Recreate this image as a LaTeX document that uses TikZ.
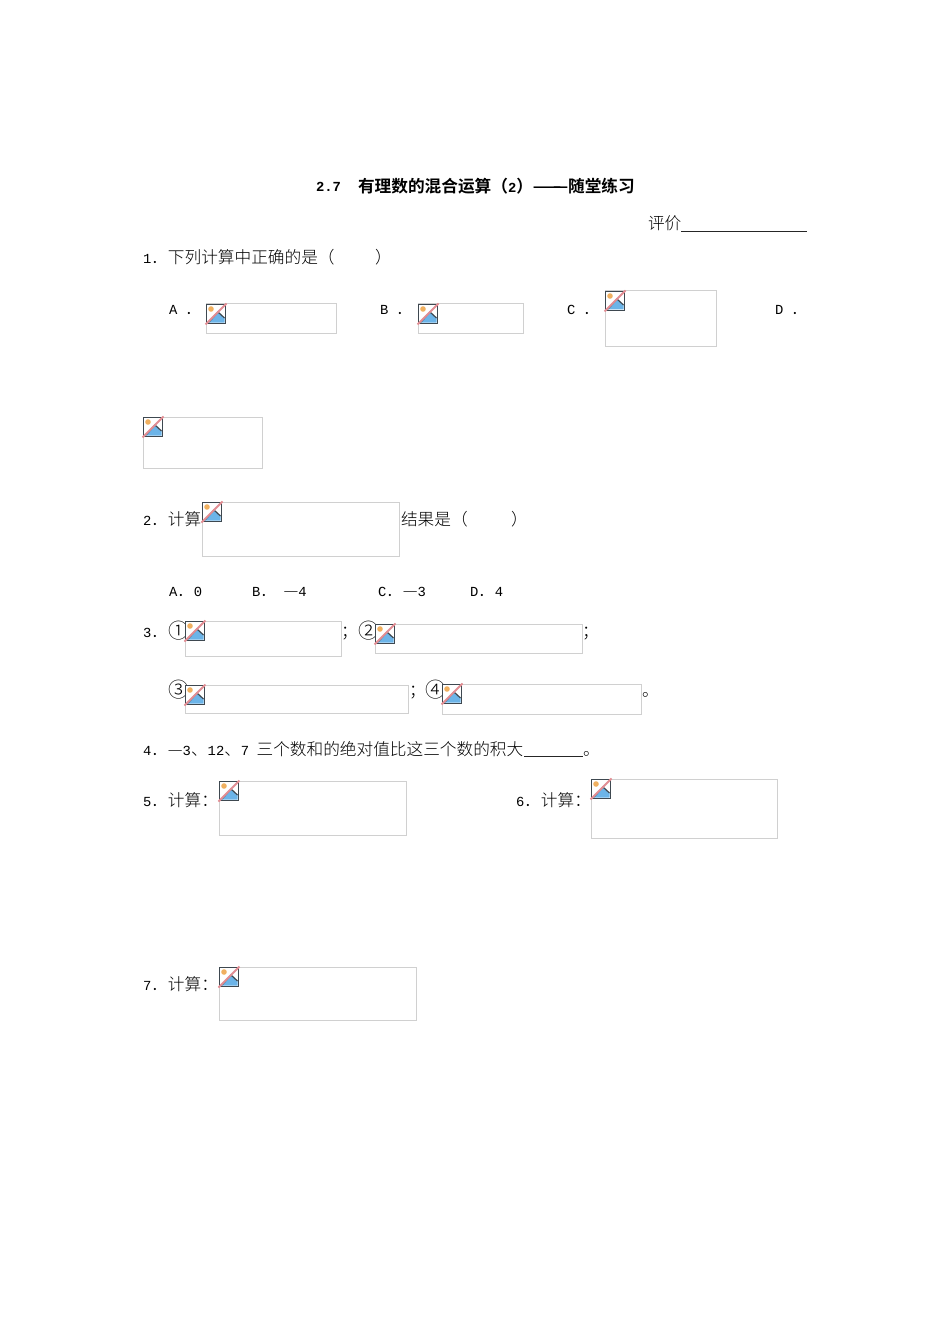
\documentclass[tikz,border=0pt]{standalone}
\usepackage{fontspec}
\setmainfont[Scale=0.83]{Liberation Mono}
\newfontfamily\cjk[BoldFont={Noto Sans CJK SC Bold}]{Noto Sans CJK SC Light}
\usepackage{xcolor}
\definecolor{boxgray}{RGB}{208,208,208}
\definecolor{icondark}{RGB}{62,72,80}
\definecolor{iconblue}{RGB}{108,180,232}
\definecolor{iconorange}{RGB}{240,176,96}
\definecolor{iconred}{RGB}{226,142,148}
\newcommand{\imgph}[5]{%
	\node[imgbox, minimum width=#4*0.75pt-0.75pt, minimum height=#5*0.75pt-0.75pt] (#1) at (#2,#3) {};
	\pic at (#1.north west) {imgicon};}
\begin{document}
\begin{tikzpicture}[x=0.75pt, y=-0.75pt, txt/.style={anchor=base west, inner sep=0pt, outer sep=0pt, text=black, font=\fontsize{12.5pt}{14pt}\selectfont}, ttl/.style={txt, font=\fontsize{12.5pt}{14pt}\selectfont\bfseries}, circnum/.style={txt, font=\fontsize{15.5pt}{16pt}\selectfont\cjk}, imgbox/.style={draw=boxgray, line width=0.75pt, anchor=north west, inner sep=0pt, outer sep=0pt}, fillin/.style={draw=black!85, line width=0.6pt},
	imgicon/.pic={
		\draw[fill=white, draw=icondark, line width=1.2pt] (0.5,0.5) rectangle (19.5,19.5);
		\fill[iconblue] (1.5,18.5) -- (12,8) -- (18.5,14) -- (18.5,18.5) -- cycle;
		\draw[icondark, line width=0.9pt] (3,18) -- (12,8) -- (18.5,14);
		\fill[iconorange] (5,5) circle (2.8);
		\draw[iconred, line width=1.4pt] (-0.5,20.5) -- (20.5,-0.5);
	}]
	\path[use as bounding box, fill=white] (0,0) rectangle (950,1344);
	% title
	\node[ttl] (title) at (316,192) {2.7};
	\node[ttl] (titleB) at (358,193) {\cjk\bfseries 有理数的混合运算（{\rmfamily 2}）——\hspace{-6.25pt}—随堂练习};
	\node[txt] (rate) at (648,230) {\cjk 评价};
	\coordinate (rateL) at (681,231);
	\coordinate (rateR) at (807,231);
	\draw[fillin] (rateL) -- (rateR);
	% question 1
	\node[txt] (q1) at (143,264) {1{\cjk ．下列计算中正确的是（}};
	\node[txt] (q1end) at (375,264) {\cjk ）};
	\node[txt] (optA) at (169,315) {A\hspace{6pt}{\cjk ．}};
	\imgph{imgA}{206}{304}{131}{30}
	\node[txt] (optB) at (380,315) {B\hspace{6pt}{\cjk ．}};
	\imgph{imgB}{418}{304}{106}{30}
	\node[txt] (optC) at (567,315) {C\hspace{6pt}{\cjk ．}};
	\imgph{imgC}{605}{291}{112}{56}
	\node[txt] (optD) at (775,315) {D\hspace{6pt}{\cjk ．}};
	\imgph{imgD}{143}{417}{120}{52}
	% question 2
	\node[txt] (q2) at (143,525) {2{\cjk ．计算}};
	\imgph{imgQtwo}{202}{502}{198}{55}
	\node[txt] (q2end) at (401,525) {\cjk 结果是（};
	\node[txt] (q2close) at (511,525) {\cjk ）};
	\node[txt] (ansA) at (169,596) {A{\cjk ．}0};
	\node[txt] (ansB) at (252,596) {B{\cjk ．}\hspace{5pt}{\cjk —}4};
	\node[txt] (ansC) at (378,596) {C{\cjk ．—}3};
	\node[txt] (ansD) at (470,596) {D{\cjk ．}4};
	% question 3
	\node[txt] (q3) at (143,637) {3{\cjk ．}};
	\node[circnum] (numOne) at (168,638) {①};
	\imgph{imgOne}{185}{621}{157}{36}
	\node[txt] (semiA) at (341,637) {\cjk ；};
	\node[circnum] (numTwo) at (358,638) {②};
	\imgph{imgTwo}{375}{624}{208}{30}
	\node[txt] (semiB) at (582,637) {\cjk ；};
	\node[circnum] (numThree) at (168,697) {③};
	\imgph{imgThree}{185}{685}{224}{29}
	\node[txt] (semiC) at (409,696) {\cjk ；};
	\node[circnum] (numFour) at (425,697) {④};
	\imgph{imgFour}{442}{684}{200}{31}
	\node[txt] (stopA) at (642,696) {\cjk 。};
	% question 4
	\node[txt] (q4) at (143,755) {4{\cjk ．—}3{\cjk 、}12{\cjk 、}7\hspace{5.5pt}{\cjk 三个数和的绝对值比这三个数的积大}};
	\coordinate (blankL) at (524,756);
	\coordinate (blankR) at (583,756);
	\draw[fillin] (blankL) -- (blankR);
	\node[txt] (stopB) at (583,755) {\cjk 。};
	% questions 5 to 7
	\node[txt] (q5) at (143,806) {5{\cjk ．计算：}};
	\imgph{imgFive}{219}{781}{188}{55}
	\node[txt] (q6) at (516,806) {6{\cjk ．计算：}};
	\imgph{imgSix}{591}{779}{187}{60}
	\node[txt] (q7) at (143,990) {7{\cjk ．计算：}};
	\imgph{imgSeven}{219}{967}{198}{54}
\end{tikzpicture}
\end{document}
